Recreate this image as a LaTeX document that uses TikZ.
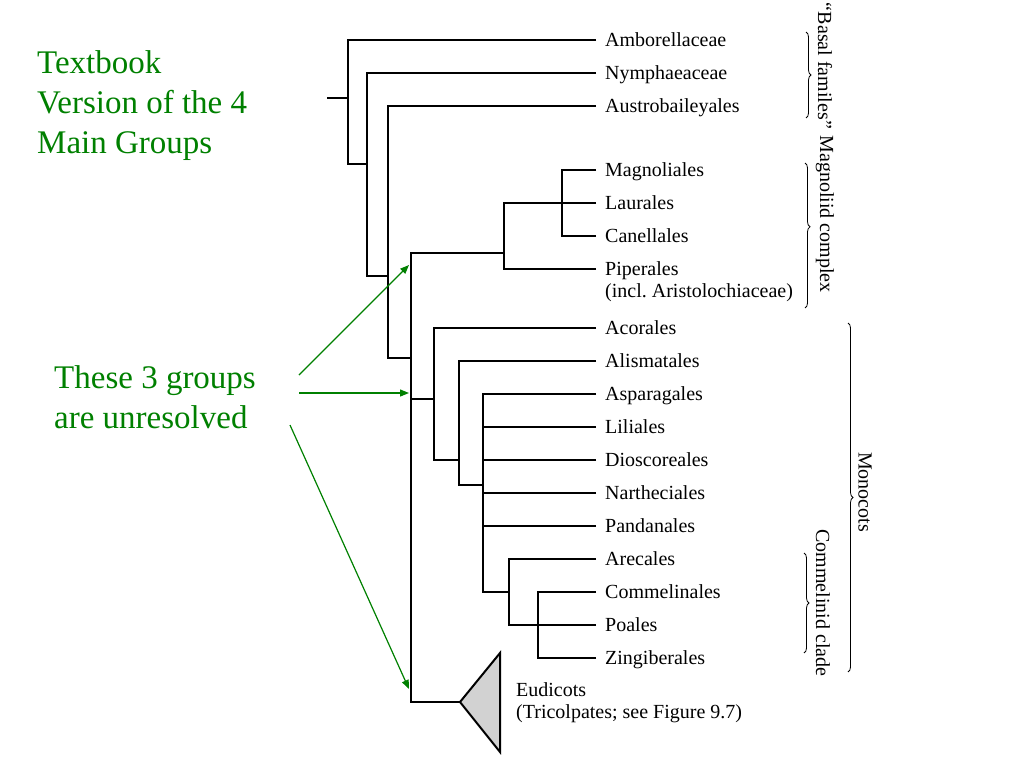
\documentclass[tikz,border=0pt]{standalone}
\usepackage{fontspec}
\usetikzlibrary{decorations.pathreplacing,arrows.meta}
\newfontfamily\slidefont{Liberation Serif}
\definecolor{slidegreen}{RGB}{0,128,0}
\newcommand{\taxfont}{\slidefont\fontsize{20}{22}\selectfont}
\tikzset{
  taxon/.style={anchor=west, inner xsep=9pt, inner ysep=0pt, text height=13.4pt, text depth=0pt, font=\taxfont},
  branch/.style={draw, line width=2.2pt},
  clade/.style={draw, decorate, decoration={brace, amplitude=5pt, aspect=#1}, line width=0.8pt},
  clade/.default=0.5,
  cladename/.style={rotate=-90, font=\taxfont},
  note/.style={anchor=base west, align=left, text=slidegreen, inner sep=0pt, font=\slidefont\fontsize{33}{40}\selectfont},
  pointer/.style={draw=slidegreen, line width=1.2pt, -{Triangle[length=9pt,width=7pt]}}
}
\begin{document}
\begin{tikzpicture}[x=1pt,y=-1pt]
\useasboundingbox (0,0) rectangle (1024,768);

% taxa
\node[taxon] (amb)  at (596,40)  {Amborellaceae};
\node[taxon] (nym)  at (596,73)  {Nymphaeaceae};
\node[taxon] (aus)  at (596,106) {Austrobaileyales};
\node[taxon] (magn) at (596,170) {Magnoliales};
\node[taxon] (laur) at (596,203) {Laurales};
\node[taxon] (cane) at (596,236) {Canellales};
\node[taxon] (pip)  at (596,269) {Piperales};
\node[taxon] (pipnote) at (596,291) {(incl.\ Aristolochiaceae)};
\node[taxon] (aco)  at (596,328) {Acorales};
\node[taxon] (alis) at (596,361) {Alismatales};
\node[taxon] (aspa) at (596,394) {Asparagales};
\node[taxon] (lili) at (596,427) {Liliales};
\node[taxon] (dios) at (596,460) {Dioscoreales};
\node[taxon] (nart) at (596,493) {Nartheciales};
\node[taxon] (pand) at (596,526) {Pandanales};
\node[taxon] (arec) at (596,559) {Arecales};
\node[taxon] (comm) at (596,592) {Commelinales};
\node[taxon] (poal) at (596,625) {Poales};
\node[taxon] (zing) at (596,658) {Zingiberales};
\node[anchor=west, align=left, inner sep=0pt, font=\taxfont] (eud) at (516,703) {Eudicots\\(Tricolpates; see Figure 9.7)};

% internal nodes
\coordinate (stem)  at (327,98);
\coordinate (root)  at (348,98);
\coordinate (nNym)  at (367,164);
\coordinate (nAus)  at (388,276);
\coordinate (nCore) at (411,358);
\coordinate (nMagn) at (504,253);
\coordinate (nMLC)  at (562,203);
\coordinate (nMono) at (434,399);
\coordinate (nAlis) at (459,460);
\coordinate (nAsp)  at (483,485);
\coordinate (nComm) at (509,592);
\coordinate (nPoa)  at (538,625);
\coordinate (eudtip) at (460,702);

% branches
\path[branch] (stem) -- (root);
\path[branch] (amb.west) -| (root);
\path[branch] (nNym) -| (root);
\path[branch] (nym.west) -| (nNym);
\path[branch] (nAus) -| (nNym);
\path[branch] (aus.west) -| (nAus);
\path[branch] (nCore) -| (nAus);

\path[branch] (nMagn) -| (nCore);
\path[branch] (nMono) -| (nCore);
\path[branch] (eudtip) -| (nCore);

\path[branch] (magn.west) -| (nMLC);
\path[branch] (laur.west) -- (nMLC);
\path[branch] (cane.west) -| (nMLC);
\path[branch] (nMLC) -| (nMagn);
\path[branch] (pip.west) -| (nMagn);

\path[branch] (aco.west) -| (nMono);
\path[branch] (nAlis) -| (nMono);
\path[branch] (alis.west) -| (nAlis);
\path[branch] (nAsp) -| (nAlis);
\foreach \t in {aspa,lili,dios,nart,pand}
  \path[branch] (\t.west) -| (nAsp);
\path[branch] (nComm) -| (nAsp);
\path[branch] (arec.west) -| (nComm);
\path[branch] (nPoa) -| (nComm);
\path[branch] (comm.west) -| (nPoa);
\path[branch] (poal.west) -- (nPoa);
\path[branch] (zing.west) -| (nPoa);

\draw[line width=2pt, fill=gray!35] (eudtip) -- (500,653) -- (500,752) -- cycle;

% clade braces
\draw[clade] (806,32) -- (806,118);
\node[cladename] (basal) at (825,66) {“Basal familes”};
\draw[clade=0.44] (805,163) -- (805,308);
\node[cladename] (magnoliid) at (825,214) {Magnoliid complex};
\draw[clade] (848,323) -- (848,672);
\node[cladename] (monocots) at (865,492) {Monocots};
\draw[clade] (804,553) -- (804,653);
\node[cladename] (commelinid) at (823,603) {Commelinid clade};

% green notes
\node[note] (textbook) at (37,153) {Textbook\\Version of the 4\\Main Groups};
\node[note] (unresolved) at (54,428) {These 3 groups\\are unresolved};

\coordinate (fromA) at (299,375);
\coordinate (toA) at (409,265);
\coordinate (fromB) at (299,393);
\coordinate (toB) at (409,393);
\coordinate (fromC) at (290,425);
\coordinate (toC) at (409,689);
\path[pointer] (fromA) -- (toA);
\path[pointer] (fromB) -- (toB);
\path[pointer] (fromC) -- (toC);
\end{tikzpicture}
\end{document}
